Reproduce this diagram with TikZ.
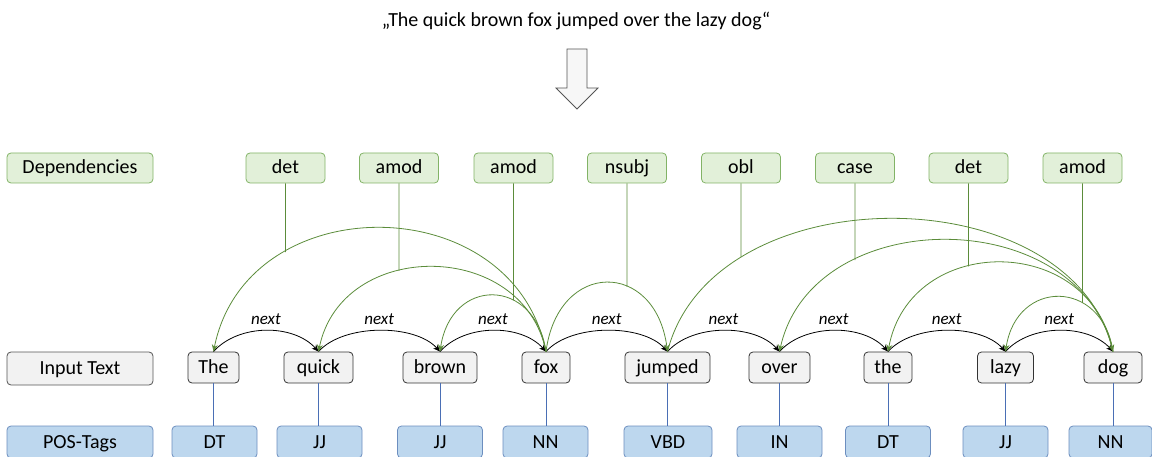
\documentclass[tikz,border=0pt]{standalone}
\usepackage{fontspec}
\setmainfont{Carlito}
\usetikzlibrary{arrows.meta,intersections}
\definecolor{depfill}{HTML}{E2F0D9}
\definecolor{depdraw}{HTML}{82B366}
\definecolor{depline}{HTML}{5B8C3A}
\definecolor{wfill}{HTML}{F2F2F2}
\definecolor{wdraw}{HTML}{333333}
\definecolor{lbldraw}{HTML}{555555}
\definecolor{posfill}{HTML}{BDD7EE}
\definecolor{posdraw}{HTML}{6C8EBF}
\definecolor{posline}{HTML}{4A6FB5}
\definecolor{arrfill}{HTML}{F7F7F7}
\definecolor{arrdraw}{HTML}{555555}
\begin{document}
\begin{tikzpicture}[x=1pt,y=-1pt,
  box/.style={rounded corners=4pt, inner sep=0pt, minimum height=30pt, text height=15pt, text depth=3pt, font=\fontsize{20}{24}\selectfont, line width=0.8pt},
  depbox/.style={box, fill=depfill, draw=depdraw, minimum width=79pt},
  lblbox/.style={box, minimum width=146pt},
  wordbox/.style={box, fill=wfill, draw=wdraw, minimum height=31pt},
  posbox/.style={box, fill=posfill, draw=posdraw, minimum width=85pt, minimum height=32pt},
  deparc/.style={draw=depline, line width=0.8pt, -{Stealth[length=7pt,width=6pt]}},
  nextarc/.style={draw=black, line width=0.8pt, -{Stealth[length=7pt,width=6pt]}},
  nextlbl/.style={font=\fontsize{17}{20}\selectfont\itshape, anchor=base, yshift=6pt, inner sep=0pt},
  depconn/.style={draw=depline, line width=0.8pt},
  posconn/.style={draw=posline, line width=0.8pt},
  bigarrow/.style={fill=arrfill, draw=arrdraw, line width=0.8pt, line join=miter},
]
\useasboundingbox (0,0) rectangle (1152,457);

% title and big arrow
\node[font=\fontsize{20}{24}\selectfont, inner sep=0pt] (title) at (576,21) {„The quick brown fox jumped over the lazy dog“};
\draw[bigarrow] (567,49) -- (587,49) -- (587,88) -- (598,88) -- (577,109) -- (556,88) -- (567,88) -- cycle;

% row labels
\node[lblbox, fill=depfill, draw=depdraw] (ldep) at (80,168) {Dependencies};
\node[lblbox, fill=wfill, draw=lbldraw, minimum height=33pt] (linp) at (80,368.5) {Input Text};
\node[lblbox, fill=posfill, draw=posdraw, minimum height=32pt] (lpos) at (80,442) {POS-Tags};

% dependency labels
\node[depbox] (d1) at (285.5,168) {det};
\node[depbox] (d2) at (399,168) {amod};
\node[depbox] (d3) at (513.5,168) {amod};
\node[depbox] (d4) at (627,168) {nsubj};
\node[depbox] (d5) at (741,168) {obl};
\node[depbox] (d6) at (855,168) {case};
\node[depbox] (d7) at (968.5,168) {det};
\node[depbox] (d8) at (1082.5,168) {amod};

% words
\node[wordbox, minimum width=51pt] (wThe) at (213.5,367.5) {The};
\node[wordbox, minimum width=69pt] (wquick) at (318.5,367.5) {quick};
\node[wordbox, minimum width=74pt] (wbrown) at (440,367.5) {brown};
\node[wordbox, minimum width=48pt] (wfox) at (546,367.5) {fox};
\node[wordbox, minimum width=85pt] (wjumped) at (667.5,367.5) {jumped};
\node[wordbox, minimum width=61pt] (wover) at (779.5,367.5) {over};
\node[wordbox, minimum width=48pt] (wthe) at (888,367.5) {the};
\node[wordbox, minimum width=56pt] (wlazy) at (1005.5,367.5) {lazy};
\node[wordbox, minimum width=58pt] (wdog) at (1113,367.5) {dog};

% POS tags
\node[posbox] (p1) at (214.5,442) {DT};
\node[posbox] (p2) at (319.5,442) {JJ};
\node[posbox] (p3) at (440,442) {JJ};
\node[posbox] (p4) at (545.5,442) {NN};
\node[posbox, minimum width=88pt] (p5) at (668,442) {VBD};
\node[posbox] (p6) at (779.5,442) {IN};
\node[posbox] (p7) at (888,442) {DT};
\node[posbox] (p8) at (1005.5,442) {JJ};
\node[posbox, minimum width=83pt] (p9) at (1110.5,442) {NN};

% word -> POS
\foreach \w/\p in {wThe/p1, wquick/p2, wbrown/p3, wfox/p4, wjumped/p5, wover/p6, wthe/p7, wlazy/p8, wdog/p9}
  \draw[posconn] (\w.south) -- (\w.south |- \p.north);

% next arcs
\foreach \a/\b in {wThe/wquick, wquick/wbrown, wbrown/wfox, wfox/wjumped, wjumped/wover, wover/wthe, wthe/wlazy, wlazy/wdog}
  \draw[nextarc] (\a.north) .. controls +(25,-28) and +(-25,-28) .. (\b.north) node[nextlbl, midway] {next};

% dependency arcs
\draw[deparc, name path=aA] (wfox.north) .. controls +(-33,-165) and +(33,-165) .. (wThe.north);
\draw[deparc, name path=aB] (wfox.north) .. controls +(-23,-113) and +(23,-113) .. (wquick.north);
\draw[deparc, name path=aC] (wfox.north) .. controls +(-11,-75) and +(11,-75) .. (wbrown.north);
\draw[deparc, name path=aD] (wfox.north) .. controls +(12,-92) and +(-12,-92) .. (wjumped.north);
\draw[deparc, name path=aE] (wjumped.north) .. controls +(45,-177) and +(-45,-177) .. (wdog.north);
\draw[deparc, name path=aF] (wdog.north) .. controls +(-33,-149) and +(33,-149) .. (wover.north);
\draw[deparc, name path=aG] (wdog.north) .. controls +(-22,-119) and +(22,-119) .. (wthe.north);
\draw[deparc, name path=aH] (wdog.north) .. controls +(-11,-73) and +(11,-73) .. (wlazy.north);

% dependency label -> arc
\path[name path=vA] (d1.south) -- ++(0,200);
\path[name path=vB] (d2.south) -- ++(0,200);
\path[name path=vC] (d3.south) -- ++(0,200);
\path[name path=vD] (d4.south) -- ++(0,200);
\path[name path=vE] (d5.south) -- ++(0,200);
\path[name path=vF] (d6.south) -- ++(0,200);
\path[name path=vG] (d7.south) -- ++(0,200);
\path[name path=vH] (d8.south) -- ++(0,200);
\path[name intersections={of=vA and aA, by=xA}];
\path[name intersections={of=vB and aB, by=xB}];
\path[name intersections={of=vC and aC, by=xC}];
\path[name intersections={of=vD and aD, by=xD}];
\path[name intersections={of=vE and aE, by=xE}];
\path[name intersections={of=vF and aF, by=xF}];
\path[name intersections={of=vG and aG, by=xG}];
\path[name intersections={of=vH and aH, by=xH}];
\draw[depconn] (d1.south) -- (xA);
\draw[depconn] (d2.south) -- (xB);
\draw[depconn] (d3.south) -- (xC);
\draw[depconn] (d4.south) -- (xD);
\draw[depconn] (d5.south) -- (xE);
\draw[depconn] (d6.south) -- (xF);
\draw[depconn] (d7.south) -- (xG);
\draw[depconn] (d8.south) -- (xH);
\end{tikzpicture}
\end{document}
